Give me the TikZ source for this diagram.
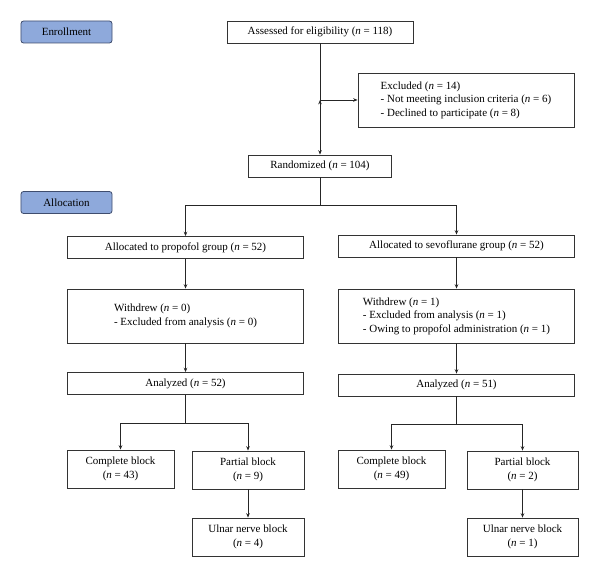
\documentclass[tikz,border=0pt]{standalone}
\usepackage{fontspec}
\setmainfont{Liberation Serif}
\usepackage{tikz}
\usetikzlibrary{arrows.meta,calc,positioning}
\definecolor{stageblue}{HTML}{8EA9DB}
\definecolor{stageedge}{HTML}{3F4D6E}
\newcommand{\nn}{\textit{n}}

\begin{document}
\begin{tikzpicture}[x=0.04cm,y=-0.04cm,>={Stealth[length=5pt,width=4pt]},
    font=\fontsize{12.5}{15.3}\selectfont,
    box/.style={draw=black!80,line width=0.9pt,minimum height=0.88cm,inner sep=2pt},
    stage/.style={box,fill=stageblue,draw=stageedge,rounded corners=3pt,minimum width=3.64cm},
    wide/.style={box,minimum width=9.44cm},
    tall/.style={wide,align=left,minimum height=2.16cm},
    pair/.style={box,align=center,minimum height=1.52cm},
    link/.style={draw=black!85,line width=0.9pt}]
           \useasboundingbox (0,0) rectangle (600,578);
           % stages
           \node[stage] (enroll) at (66.5,32)  {Enrollment};
           \node[stage] (alloc)  at (66.5,202.5) {Allocation};
           % enrollment
           \node[box, minimum width=7.44cm] (assess) at (320,32) {Assessed for eligibility (\nn{} = 118)};
           \node[box, align=left, minimum width=8.64cm, minimum height=2.16cm] (excl) at (466,100)
                {Excluded (\nn{} = 14)\\- Not meeting inclusion criteria (\nn{} = 6)\\- Declined to participate (\nn{} = 8)};
           \node[box, minimum width=5.72cm] (rand) at (320,166) {Randomized (\nn{} = 104)};
           % groups
           \node[wide] (prop_g) at (185.5,247.5) {Allocated to propofol group (\nn{} = 52)};
           \node[wide] (sevo_g) at (456.5,246)   {Allocated to sevoflurane group (\nn{} = 52)};
           \node[tall] (prop_w) at (185.5,316) {Withdrew (\nn{} = 0)\\- Excluded from analysis (\nn{} = 0)};
           \node[tall] (sevo_w) at (456.5,316) {Withdrew (\nn{} = 1)\\- Excluded from analysis (\nn{} = 1)\\- Owing to propofol administration (\nn{} = 1)};
           \node[wide] (prop_a) at (185.5,383.5) {Analyzed (\nn{} = 52)};
           \node[wide] (sevo_a) at (456.5,385)   {Analyzed (\nn{} = 51)};
           % blocks
           \node[pair, minimum width=4.28cm] (prop_c) at (120.5,469) {Complete block\\(\nn{} = 43)};
           \node[pair, minimum width=4.48cm] (prop_p) at (248,470)   {Partial block\\(\nn{} = 9)};
           \node[pair, minimum width=4.48cm] (prop_u) at (248,537)   {Ulnar nerve block\\(\nn{} = 4)};
           \node[pair, minimum width=4.28cm] (sevo_c) at (391.5,469) {Complete block\\(\nn{} = 49)};
           \node[pair, minimum width=4.44cm] (sevo_p) at (522.5,470) {Partial block\\(\nn{} = 2)};
           \node[pair, minimum width=4.44cm] (sevo_u) at (522.5,537) {Ulnar nerve block\\(\nn{} = 1)};
           % split points
           \coordinate (split_r) at (rand.south |- 0,205.5);
           \coordinate (split_p) at (prop_a.south |- 0,423);
           \coordinate (split_s) at (sevo_a.south |- 0,424);
           \path[link,->]
            (assess) edge (rand)
            (assess.south |- excl.west) edge (excl)
            (prop_g) edge (prop_w)
            (prop_w) edge (prop_a)
            (sevo_g) edge (sevo_w)
            (sevo_w) edge (sevo_a)
            (prop_p) edge (prop_u)
            (sevo_p) edge (sevo_u);
           \draw[link] (rand) -- (split_r);
           \draw[link,->] (split_r) -| (prop_g);
           \draw[link,->] (split_r) -| (sevo_g);
           \draw[link] (prop_a) -- (split_p);
           \draw[link,->] (split_p) -| (prop_c);
           \draw[link,->] (split_p) -| (prop_p);
           \draw[link] (sevo_a) -- (split_s);
           \draw[link,->] (split_s) -| (sevo_c);
           \draw[link,->] (split_s) -| (sevo_p);
        \end{tikzpicture}
\end{document}
